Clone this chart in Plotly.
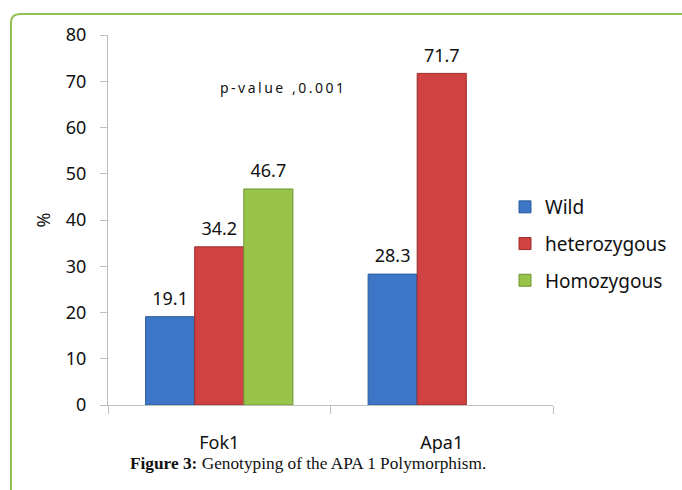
import plotly.graph_objects as go

categories = ["Fok1", "Apa1"]
series_names = ["Wild", "heterozygous", "Homozygous"]
wild = [19.1, 28.3]
hetero = [34.2, 71.7]
homo = [46.7, None]
y_ticks = [0, 10, 20, 30, 40, 50, 60, 70, 80]
annotation_text = "p-value ,0.001"
caption = "<b>Figure 3:</b> Genotyping of the APA 1 Polymorphism."

colors = ["#3d76c6", "#d04141", "#98c44a"]
lines = ["#2c5a9c", "#9c2c2c", "#6f9132"]
font_fam = "Noto Sans, Open Sans, sans-serif"

fig = go.Figure()
for i, (name, vals, c, lc) in enumerate(zip(series_names, [wild, hetero, homo], colors, lines)):
    fig.add_trace(go.Bar(
        name=name, x=categories, y=vals, legendgroup="g%d" % i,
        offsetgroup=str(i),
        marker=dict(color=c, line=dict(color=lc, width=1)),
    ))
for i, (name, vals) in enumerate(zip(series_names, [wild, hetero, homo])):
    fig.add_trace(go.Scatter(
        name=name, x=categories, y=vals, legendgroup="g%d" % i,
        offsetgroup=str(i), showlegend=False, hoverinfo="skip",
        mode="markers+text", marker=dict(size=10, opacity=0),
        text=[("%.1f" % v) if v is not None else "" for v in vals],
        textposition="top center", cliponaxis=False,
        textfont=dict(size=18, color="#111111", family=font_fam),
    ))

L, R, T, B = 108, 129, 35, 85
W, H = 682, 490
pw, ph = W - L - R, H - T - B

def px(x):
    return (x - L) / pw

def py(y):
    return (H - B - y) / ph

x0, top, rad = 11, 14, 9
path = (f"M {px(x0)},{py(H+5)} L {px(x0)},{py(top+rad)} "
        f"Q {px(x0)},{py(top)} {px(x0+rad)},{py(top)} L {px(W+5)},{py(top)}")

fig.update_layout(
    width=W, height=H,
    margin=dict(l=L, r=R, t=T, b=B, autoexpand=False),
    paper_bgcolor="white", plot_bgcolor="white",
    barmode="group", bargap=0.338, bargroupgap=0,
    scattermode="group", scattergap=0.338,
    font=dict(family=font_fam, color="#111111"),
    showlegend=True,
    legend=dict(x=px(505), y=py(188), xanchor="left", yanchor="top",
                font=dict(size=19, family=font_fam), tracegroupgap=9,
                traceorder="grouped", itemwidth=30,
                bgcolor="rgba(0,0,0,0)"),
    xaxis=dict(showline=True, linecolor="#bfbfbf", linewidth=1,
               ticks="outside", tickson="boundaries", ticklen=8, tickcolor="#bfbfbf",
               tickfont=dict(size=18, family=font_fam), ticklabelstandoff=21,
               showgrid=False),
    yaxis=dict(range=[0, 80], tickvals=y_ticks, showline=True, linecolor="#bfbfbf",
               linewidth=1, ticks="outside", ticklen=7, tickcolor="#bfbfbf",
               tickfont=dict(size=18, family=font_fam), ticklabelstandoff=10,
               showgrid=False, zeroline=False,
               title=dict(text="%", font=dict(size=18, family=font_fam), standoff=10)),
    shapes=[dict(type="path", xref="paper", yref="paper", path=path,
                 line=dict(color="#92c050", width=2))],
    annotations=[
        dict(text='<span style="letter-spacing:2.5px">' + annotation_text + '</span>',
             xref="paper", yref="paper", x=px(283), y=py(87),
             showarrow=False, font=dict(size=14, family="Noto Sans, sans-serif", color="#111111"),
             xanchor="center", yanchor="middle"),
        dict(text=caption, xref="paper", yref="paper", x=px(308), y=py(463),
             showarrow=False, font=dict(size=17.3, family="Liberation Serif, Times New Roman, serif", color="#111111"),
             xanchor="center", yanchor="middle"),
    ],
)

fig.write_html("out.html", config={"displayModeBar": False},
               post_script="document.body.style.margin='0';")
